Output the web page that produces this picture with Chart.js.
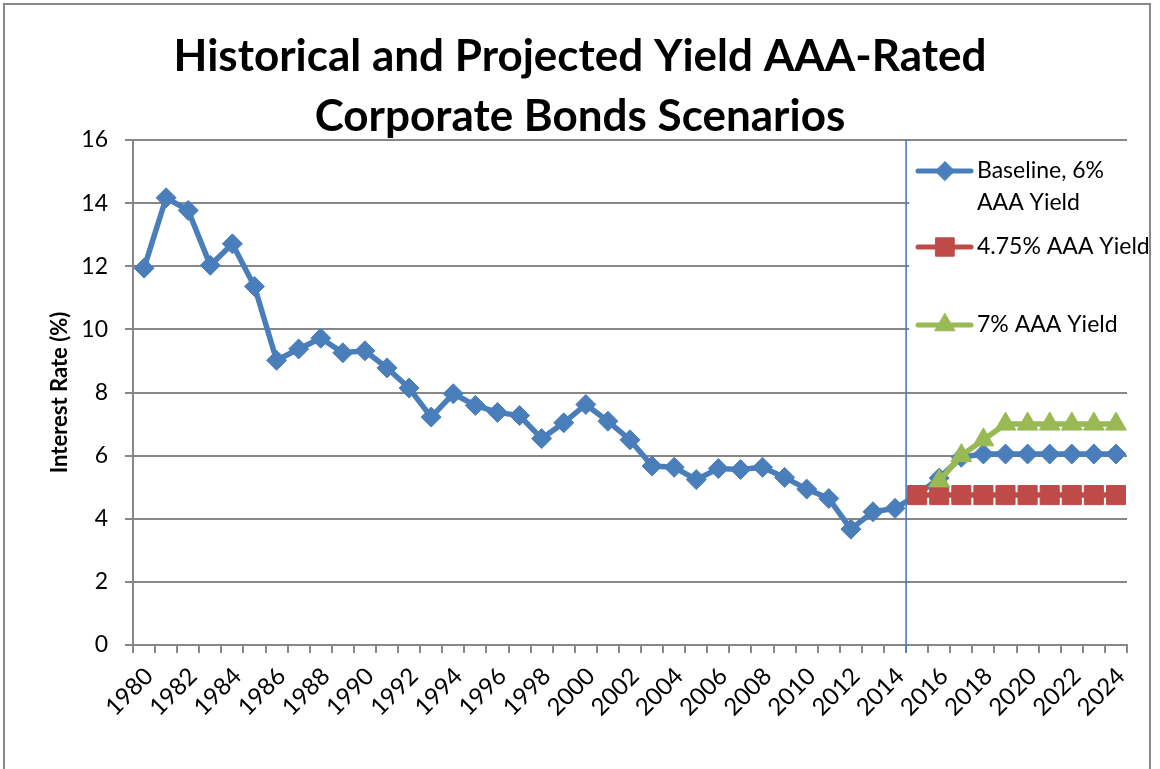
<!DOCTYPE html>
<html>
<head>
<meta charset="utf-8">
<title>Historical and Projected Yield AAA-Rated Corporate Bonds Scenarios</title>
<script src="https://cdn.jsdelivr.net/npm/chart.js@4.4.1/dist/chart.umd.min.js"></script>
<style>
    html, body { margin: 0; padding: 0; background: #ffffff; }
    #wrap { width: 1160px; height: 769px; }
</style>
</head>
<body>
<div id="wrap"><canvas id="graph" width="1160" height="769"></canvas></div>
<script>
// years on the category axis, 1980 .. 2024
const years = [
    "1980", "1981", "1982", "1983", "1984", "1985", "1986", "1987", "1988", "1989",
    "1990", "1991", "1992", "1993", "1994", "1995", "1996", "1997", "1998", "1999",
    "2000", "2001", "2002", "2003", "2004", "2005", "2006", "2007", "2008", "2009",
    "2010", "2011", "2012", "2013", "2014", "2015", "2016", "2017", "2018", "2019",
    "2020", "2021", "2022", "2023", "2024"
];

// Baseline, 6% AAA Yield (history up to 2014, then the projection)
const baseline = [
    11.94, 14.17, 13.77, 12.03, 12.71, 11.36, 9.02, 9.38, 9.72, 9.26,
    9.32, 8.78, 8.14, 7.22, 7.96, 7.59, 7.37, 7.27, 6.54, 7.04,
    7.62, 7.09, 6.50, 5.67, 5.63, 5.24, 5.59, 5.56, 5.63, 5.31,
    4.94, 4.64, 3.67, 4.22, 4.33, 4.75, 5.29, 5.95, 6.05, 6.05,
    6.05, 6.05, 6.05, 6.05, 6.05
];

// 4.75% AAA Yield scenario
const lowYield = [
    null, null, null, null, null, null, null, null, null, null,
    null, null, null, null, null, null, null, null, null, null,
    null, null, null, null, null, null, null, null, null, null,
    null, null, null, null, null, 4.75, 4.75, 4.75, 4.75, 4.75,
    4.75, 4.75, 4.75, 4.75, 4.75
];

// 7% AAA Yield scenario
const highYield = [
    null, null, null, null, null, null, null, null, null, null,
    null, null, null, null, null, null, null, null, null, null,
    null, null, null, null, null, null, null, null, null, null,
    null, null, null, null, null, null, 5.2, 6.0, 6.5, 7.0,
    7.0, 7.0, 7.0, 7.0, 7.0
];

const seriesNames = [["Baseline, 6%", "AAA Yield"], ["4.75% AAA Yield"], ["7% AAA Yield"]];
const yTicks = [0, 2, 4, 6, 8, 10, 12, 14, 16];
const forecastStart = "2015";

const BLUE = "#4a7ebb";
const RED = "#be4b48";
const GREEN = "#98b954";
const GRID = "#878787";

Chart.defaults.font.family = "Lato, 'Noto Sans', sans-serif";
Chart.defaults.color = "#000000";

function drawMarker(ctx, style, radius, x, y) {
    if (Chart.helpers && Chart.helpers.drawPoint) {
        Chart.helpers.drawPoint(ctx, {pointStyle: style, radius: radius, rotation: 0, borderWidth: 1}, x, y);
        return;
    }
    ctx.beginPath();
    if (style === "rectRot") {
        ctx.moveTo(x, y - radius); ctx.lineTo(x + radius, y);
        ctx.lineTo(x, y + radius); ctx.lineTo(x - radius, y);
    } else if (style === "rect") {
        const s = radius * Math.SQRT1_2;
        ctx.rect(x - s, y - s, 2 * s, 2 * s);
    } else {
        ctx.moveTo(x, y - radius);
        ctx.lineTo(x + radius * 0.866, y + radius / 2);
        ctx.lineTo(x - radius * 0.866, y + radius / 2);
    }
    ctx.closePath();
    ctx.fill();
    ctx.stroke();
}

// frame, forecast divider and the legend on the right
const decorations = {
    id: "decorations",
    afterDraw(chart) {
        const ctx = chart.ctx;
        const area = chart.chartArea;
        const x = chart.scales.x;
        const idx = years.indexOf(forecastStart);
        const divX = (x.getPixelForValue(idx - 1) + x.getPixelForValue(idx)) / 2;

        ctx.save();
        ctx.strokeStyle = BLUE;
        ctx.lineWidth = 1.6;
        ctx.beginPath();
        ctx.moveTo(divX, area.top);
        ctx.lineTo(divX, area.bottom + 7);
        ctx.stroke();

        // legend box covers the gridlines behind it
        ctx.fillStyle = "#ffffff";
        ctx.fillRect(divX + 3, 146, 1148 - divX - 3, 210);

        const rows = [
            {color: BLUE, style: "rectRot", r: 9.5, y: 171},
            {color: RED, style: "rect", r: 13, y: 247},
            {color: GREEN, style: "triangle", r: 11.5, y: 325}
        ];
        ctx.font = "23px Lato, 'Noto Sans', sans-serif";
        ctx.textBaseline = "middle";
        rows.forEach((row, i) => {
            ctx.strokeStyle = row.color;
            ctx.fillStyle = row.color;
            ctx.lineWidth = 5;
            ctx.lineCap = "round";
            ctx.beginPath();
            ctx.moveTo(918, row.y);
            ctx.lineTo(971, row.y);
            ctx.stroke();
            ctx.lineWidth = 1;
            drawMarker(ctx, row.style, row.r, 945, row.y);
            ctx.fillStyle = "#000000";
            seriesNames[i].forEach((line, j) => {
                ctx.fillText(line, 977, row.y + j * 32);
            });
        });

        ctx.strokeStyle = GRID;
        ctx.lineWidth = 2;
        ctx.strokeRect(4, 4, 1146, 820);
        ctx.restore();
    }
};

const ctx = document.getElementById("graph").getContext("2d");
new Chart(ctx, {
    type: "line",
    data: {
        labels: years,
        datasets: [
            {
                label: seriesNames[0].join(" "),
                data: baseline,
                borderColor: BLUE,
                backgroundColor: BLUE,
                borderWidth: 5.5,
                pointStyle: "rectRot",
                pointRadius: 10,
                pointBorderWidth: 1,
                order: 2
            },
            {
                label: seriesNames[1][0],
                data: lowYield,
                borderColor: RED,
                backgroundColor: RED,
                borderWidth: 5.5,
                pointStyle: "rect",
                pointRadius: 13.5,
                pointBorderWidth: 1,
                order: 1
            },
            {
                label: seriesNames[2][0],
                data: highYield,
                borderColor: GREEN,
                backgroundColor: GREEN,
                borderWidth: 5.5,
                pointStyle: "triangle",
                pointRadius: 12,
                pointBorderWidth: 1,
                order: 0
            }
        ]
    },
    options: {
        responsive: false,
        animation: false,
        layout: {padding: {left: 33, right: 33, top: 0, bottom: 0}},
        plugins: {
            legend: {display: false},
            tooltip: {enabled: false},
            title: {
                display: true,
                text: ["Historical and Projected Yield AAA-Rated", "Corporate Bonds Scenarios"],
                font: {size: 44, weight: "bold", lineHeight: "60px"},
                color: "#000000",
                padding: {top: 27, bottom: -7}
            }
        },
        scales: {
            x: {
                offset: true,
                grid: {offset: true, drawOnChartArea: false, drawTicks: true, tickLength: 8, color: GRID, lineWidth: 2},
                border: {color: GRID, width: 2},
                ticks: {
                    autoSkip: false,
                    minRotation: 45,
                    maxRotation: 45,
                    padding: 9,
                    labelOffset: 5,
                    font: {size: 24},
                    callback: (value, index) => (index % 2 === 0 ? years[index] : "")
                },
                afterFit: (scale) => { scale.height = 124; }
            },
            y: {
                min: 0,
                max: 16,
                afterBuildTicks: (scale) => { scale.ticks = yTicks.map((v) => ({value: v})); },
                grid: {color: GRID, lineWidth: 2, tickLength: 8},
                border: {color: GRID, width: 2},
                ticks: {padding: 17, font: {size: 23}},
                title: {
                    display: true,
                    text: "Interest Rate (%)",
                    font: {size: 22, weight: "bold"},
                    padding: {top: 14, bottom: 0}
                },
                afterFit: (scale) => { scale.width = 100; }
            }
        }
    },
    plugins: [decorations]
});
</script>
</body>
</html>
